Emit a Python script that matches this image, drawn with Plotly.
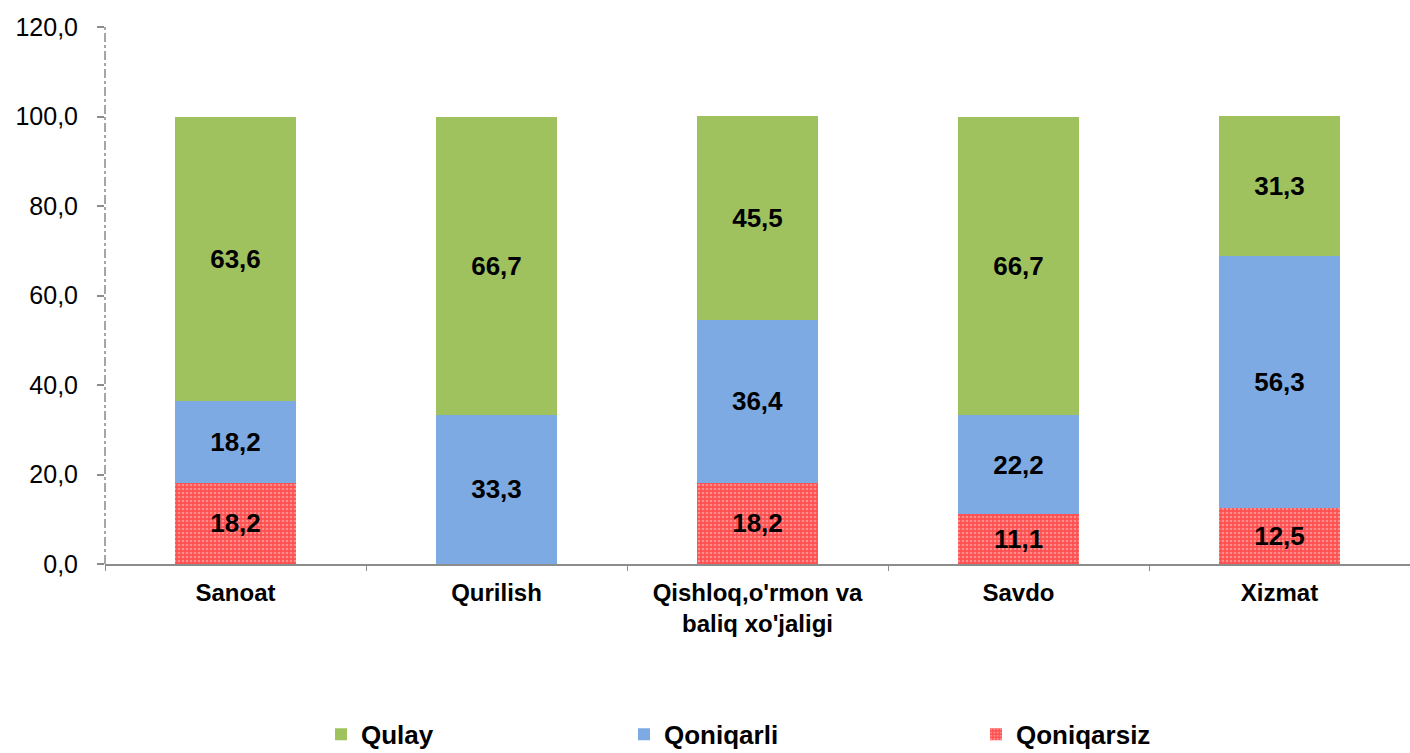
import plotly.graph_objects as go

categories = ["Sanoat", "Qurilish", "Qishloq,o'rmon va<br>baliq xo'jaligi", "Savdo", "Xizmat"]
qoniqarsiz = [18.2, 0.0, 18.2, 11.1, 12.5]
qoniqarli = [18.2, 33.3, 36.4, 22.2, 56.3]
qulay = [63.6, 66.7, 45.5, 66.7, 31.3]
y_ticks = [0, 20, 40, 60, 80, 100, 120]


def labels(vals):
    return [("%.1f" % v).replace(".", ",") if v > 0 else "" for v in vals]


GREEN = "#9fc25f"
BLUE = "#7eaae3"
RED = "#ff4f4f"
label_font = dict(family="Liberation Sans, Arial", size=26, color="black")

fig = go.Figure()
fig.add_bar(
    x=categories, y=qoniqarsiz, name="Qoniqarsiz", legend="legend3", showlegend=True,
    marker=dict(color=RED, line=dict(width=0),
                pattern=dict(shape=".", fgcolor="#ffd0d0", bgcolor=RED, size=4, solidity=0.35)),
    text=labels(qoniqarsiz), textposition="inside", insidetextanchor="middle",
    textfont=label_font, texttemplate="<b>%{text}</b>", hoverinfo="skip",
)
fig.add_bar(
    x=categories, y=qoniqarli, name="Qoniqarli", legend="legend2", showlegend=True,
    marker=dict(color=BLUE, line=dict(width=0)),
    text=labels(qoniqarli), textposition="inside", insidetextanchor="middle",
    textfont=label_font, texttemplate="<b>%{text}</b>", hoverinfo="skip",
)
fig.add_bar(
    x=categories, y=qulay, name="Qulay", legend="legend", showlegend=True,
    marker=dict(color=GREEN, line=dict(width=0)),
    text=labels(qulay), textposition="inside", insidetextanchor="middle",
    textfont=label_font, texttemplate="<b>%{text}</b>", hoverinfo="skip",
)

leg_font = dict(family="Liberation Sans, Arial", size=26, color="black", weight="bold")
leg_common = dict(orientation="h", yanchor="middle", y=-0.317, xanchor="left",
                  font=leg_font, bgcolor="rgba(0,0,0,0)", itemwidth=30)

fig.update_layout(
    width=1410, height=753,
    margin=dict(l=105, r=0, t=27, b=189, autoexpand=False),
    paper_bgcolor="white", plot_bgcolor="white",
    barmode="stack", bargap=0.54,
    separators=", ",
    showlegend=True,
    uniformtext=dict(mode="show", minsize=10),
    legend=dict(x=(321 - 105) / 1305, **leg_common),
    legend2=dict(x=(624 - 105) / 1305, **leg_common),
    legend3=dict(x=(976 - 105) / 1305, **leg_common),
    xaxis=dict(
        type="category", range=[-0.5, 4.5], automargin=False,
        showline=True, linecolor="#8c8c8c", linewidth=2,
        ticks="outside", tickson="boundaries", ticklen=5, tickcolor="#8c8c8c",
        ticklabelstandoff=6,
        tickfont=dict(family="Liberation Sans, Arial", size=24, color="black", weight="bold"),
        showgrid=False,
    ),
    yaxis=dict(
        range=[0, 120], tickvals=y_ticks, tickformat=".1f", automargin=False,
        showline=False, showgrid=False, zeroline=False,
        ticks="outside", ticklen=7, tickcolor="#8c8c8c", tickwidth=2,
        ticklabelstandoff=14,
        tickfont=dict(family="Liberation Sans, Arial", size=25, color="black"),
    ),
)

fig.add_shape(type="line", xref="paper", yref="y", x0=0, x1=0, y0=0, y1=120,
              line=dict(color="#a6a6a6", width=2, dash="dashdot"), layer="above")

fig.write_html("out.html", config={"displayModeBar": False},
               post_script="document.body.style.margin='0';document.body.style.overflow='hidden';")
